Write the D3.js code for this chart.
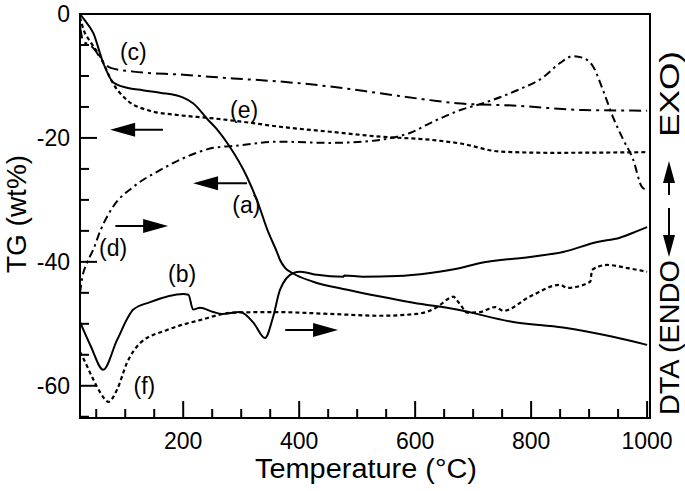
<!DOCTYPE html>
<html><head><meta charset="utf-8">
<script src="https://cdn.jsdelivr.net/npm/d3@7"></script>
<style>body{margin:0;background:#fff}svg{display:block}text{font-family:"Liberation Sans",Arial,Helvetica,sans-serif;fill:#000}</style>
</head><body>
<script>
// ---- data (temperature °C, value on TG axis units) ----
const aT = [22,30,45,62,79,103,130,160,200,217,243,259,278,310,329,345,362,367,376,388,424,483,540,597,672,769,855,941,1000];
const aV = [0,-1,-3.1,-7.9,-11,-11.9,-12.3,-12.7,-13.5,-14.4,-17.1,-18.7,-21.1,-26.3,-30.5,-34.8,-38.5,-39.7,-41,-41.8,-43.2,-44.5,-45.6,-46.6,-47.7,-49.7,-50.6,-52.1,-53.4];
const bT = [22,40,62,86,114,143,200,209,217,229,252,267,298,321,341,355,367,390,402,431,476,478,510,569,626,678,712,798,855,914,953,976,1000];
const bV = [-49.7,-53.5,-57.4,-52.6,-47.7,-46.5,-45.2,-45.3,-47.7,-47.4,-48.1,-48.4,-48.1,-49.8,-52.3,-48.9,-44.5,-41.8,-41.6,-42.1,-42.4,-42.2,-42.4,-42.3,-41.8,-41,-40.2,-39.2,-38.4,-36.8,-36.1,-35.3,-34.4];
const cT = [22,28,35,45,60,75,114,200,286,367,453,540,626,672,776,890,1000];
const cV = [-2,-4.5,-4.8,-5.5,-7.5,-8.7,-9.3,-9.8,-10.4,-10.9,-11.7,-12.8,-13.9,-14.4,-14.8,-15.5,-15.6];
const dT = [22,26,34,45,57,79,114,160,207,252,286,367,453,510,569,591,626,678,717,776,821,850,872,890,907,924,941,959,976,991,1000];
const dV = [-45,-42.5,-40.2,-38,-35,-31.1,-27.9,-25.2,-23,-21.6,-21.3,-20.6,-20.8,-20.6,-19.8,-19.2,-17.6,-15.5,-14.4,-12.3,-10.2,-7.9,-6.8,-7.1,-8.5,-12.3,-16.6,-20.3,-23.5,-27.9,-28.4];
const eT = [22,28,40,57,79,103,138,190,247,303,367,453,540,626,678,747,833,1000];
const eV = [-0.5,-2.5,-4.5,-6.9,-11.2,-13.9,-15.5,-16.3,-16.8,-17.4,-18.2,-19,-19.8,-20.3,-20.9,-22.2,-22.4,-22.3];
const fT = [22,30,45,57,71,86,103,126,172,229,286,355,453,540,603,638,660,666,672,678,690,712,738,752,798,850,862,902,905,931,966,1000];
const fV = [-54.5,-56,-59,-61.1,-62.6,-60.6,-56.3,-53.1,-51,-49.4,-48.2,-48.1,-48.4,-48.7,-48.4,-47.3,-45.8,-45.6,-46.2,-46.9,-48.2,-48.1,-47.3,-47.9,-45.6,-43.7,-44.2,-43.2,-41.3,-40.5,-41,-41.6];

const xTickLabels = [200,400,600,800,1000];
const yTickLabels = [0,-20,-40,-60];
const curveLabels = ["(a)","(b)","(c)","(d)","(e)","(f)"];
const labelT = [309,198,114,79,305,133];
const labelV = [-30.8,-41.9,-6.1,-37.7,-15.5,-60];
// arrows: [fromT, toT, value]
const arrowFrom = [165,310,83,376];
const arrowTo = [74,217,174,467];
const arrowV = [-18.7,-27.3,-34.2,-51];

// ---- chart ----
const W = 685, H = 491;
const L = 80, R = 650, T = 14, B = 418;
const svg = d3.select("body").append("svg").attr("width", W).attr("height", H);
const x = d3.scaleLinear().domain([22, 1005]).range([L, R]);
const y = d3.scaleLinear().domain([-65.2, 0]).range([B, T]);

const series = [
  {T: aT, V: aV, dash: null, w: 2},
  {T: bT, V: bV, dash: null, w: 2},
  {T: cT, V: cV, dash: "12,5,3,5", w: 2},
  {T: dT, V: dV, dash: "8,4,2.5,4", w: 2},
  {T: eT, V: eV, dash: "4,3", w: 2.2},
  {T: fT, V: fV, dash: "4,3", w: 2.2}
];
const line = d3.line().x(d => x(d[0])).y(d => y(d[1])).curve(d3.curveMonotoneX);
series.forEach(s => {
  svg.append("path").datum(d3.zip(s.T, s.V)).attr("d", line)
    .attr("fill", "none").attr("stroke", "#000").attr("stroke-width", s.w)
    .attr("stroke-dasharray", s.dash).attr("stroke-linejoin", "round");
});

// frame
svg.append("rect").attr("x", L).attr("y", T).attr("width", R - L).attr("height", B - T)
  .attr("fill", "none").attr("stroke", "#000").attr("stroke-width", 2);

// axes (ticks inward)
const xMinor = d3.range(50, 1001, 50);
const gx = svg.append("g").attr("transform", `translate(0,${B})`);
gx.selectAll("line").data(xMinor).join("line")
  .attr("x1", d => x(d)).attr("x2", d => x(d)).attr("y1", 0)
  .attr("y2", d => d % 200 === 0 ? -17 : -9).attr("stroke", "#000").attr("stroke-width", 2);
gx.selectAll("text").data(xTickLabels).join("text")
  .attr("x", d => x(d)).attr("y", 31).attr("text-anchor", "middle").attr("font-size", 23).text(d => d);

const yMinor = d3.range(-65, 1, 5);
const gy = svg.append("g").attr("transform", `translate(${L},0)`);
gy.selectAll("line").data(yMinor).join("line")
  .attr("y1", d => y(d)).attr("y2", d => y(d)).attr("x1", 0)
  .attr("x2", d => d % 20 === 0 ? 17 : 9).attr("stroke", "#000").attr("stroke-width", 2);
gy.selectAll("text").data(yTickLabels).join("text")
  .attr("x", -10).attr("y", d => y(d)).attr("dy", "0.36em").attr("text-anchor", "end")
  .attr("font-size", 23).text(d => d);

// titles
svg.append("text").attr("x", 366).attr("y", 478).attr("text-anchor", "middle")
  .attr("font-size", 27).attr("textLength", 222).attr("lengthAdjust", "spacingAndGlyphs")
  .text("Temperature (°C)");
svg.append("text").attr("transform", "translate(26,214) rotate(-90)").attr("text-anchor", "middle")
  .attr("font-size", 28).text("TG (wt%)");

// right title with arrows
const rt = svg.append("g").attr("transform", "translate(679,415) rotate(-90)");
rt.append("text").attr("x", 0).attr("y", 0).attr("font-size", 27)
  .attr("textLength", 155).attr("lengthAdjust", "spacingAndGlyphs").text("DTA (ENDO");
rt.append("text").attr("x", 278).attr("y", 0).attr("font-size", 27)
  .attr("textLength", 86).attr("lengthAdjust", "spacingAndGlyphs").text("EXO)");
function arrowHead(g, tipX, dir, yy) {
  g.append("path").attr("d", `M${tipX},${yy} L${tipX + dir * 22},${yy - 6} L${tipX + dir * 22},${yy + 6} Z`).attr("fill", "#000");
}
rt.append("line").attr("x1", 170).attr("x2", 207).attr("y1", -10).attr("y2", -10).attr("stroke", "#000").attr("stroke-width", 2);
arrowHead(rt, 158, 1, -10);
rt.append("line").attr("x1", 220).attr("x2", 245).attr("y1", -10).attr("y2", -10).attr("stroke", "#000").attr("stroke-width", 2);
arrowHead(rt, 254, -1, -10);

// curve labels
svg.selectAll("text.lbl").data(curveLabels).join("text").attr("class", "lbl")
  .attr("x", (d, i) => x(labelT[i])).attr("y", (d, i) => y(labelV[i])).attr("dy", "0.36em")
  .attr("text-anchor", "middle").attr("font-size", 23).text(d => d);

// arrows
arrowFrom.forEach((f, i) => {
  const x1 = x(f), x2 = x(arrowTo[i]), yy = y(arrowV[i]);
  const dir = x2 > x1 ? -1 : 1;
  svg.append("line").attr("x1", x1).attr("x2", x2 + dir * 20).attr("y1", yy).attr("y2", yy)
    .attr("stroke", "#000").attr("stroke-width", 2);
  svg.append("path").attr("d", `M${x2},${yy} L${x2 + dir * 25},${yy - 7} L${x2 + dir * 25},${yy + 7} Z`).attr("fill", "#000");
});
</script>
</body></html>
